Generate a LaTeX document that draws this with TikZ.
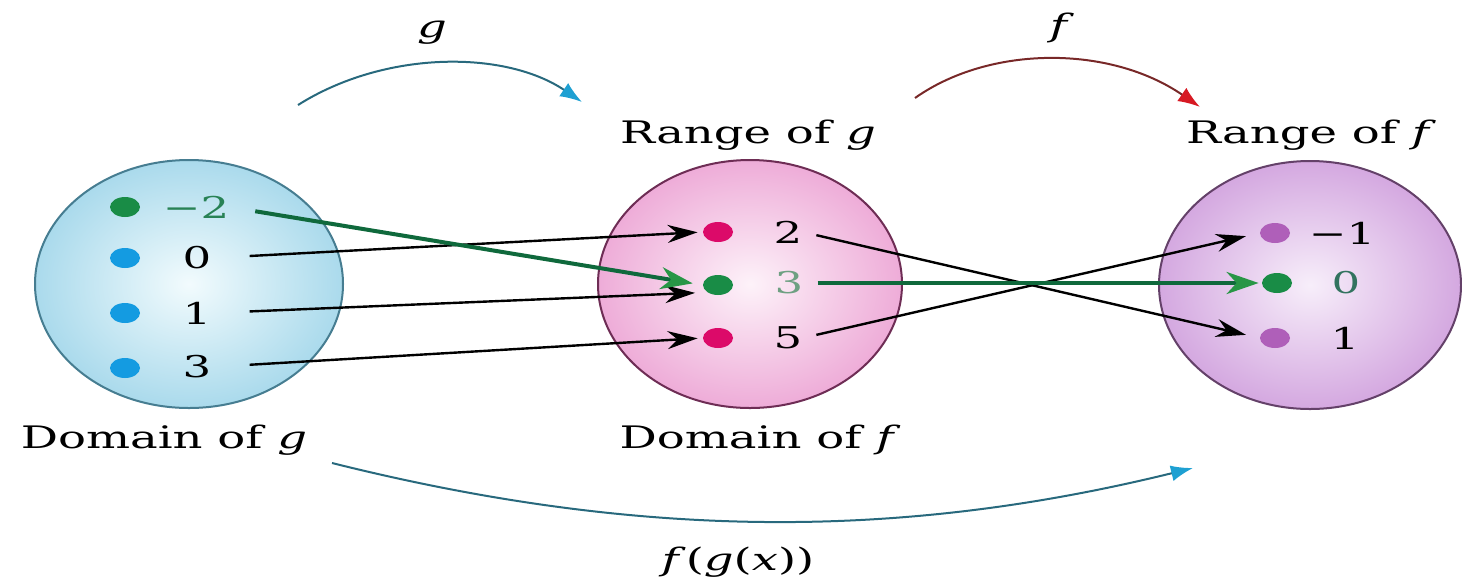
\documentclass[tikz,border=0pt]{standalone}
\usepackage{fontspec}
\setmainfont{DejaVu Serif}
\usepackage{graphicx}
\usetikzlibrary{arrows.meta,shapes.geometric}
\newcommand{\sx}[1]{\scalebox{1.5}[1]{#1}}
\definecolor{aFillOut}{RGB}{170,218,236}
\definecolor{aFillIn}{RGB}{242,251,253}
\definecolor{aLine}{RGB}{70,125,145}
\definecolor{bFillOut}{RGB}{238,172,216}
\definecolor{bFillIn}{RGB}{253,242,249}
\definecolor{bLine}{RGB}{110,45,85}
\definecolor{cFillOut}{RGB}{212,168,224}
\definecolor{cFillIn}{RGB}{247,238,250}
\definecolor{cLine}{RGB}{100,65,105}
\definecolor{dGreen}{RGB}{25,140,70}
\definecolor{dBlue}{RGB}{20,155,225}
\definecolor{dMag}{RGB}{220,10,105}
\definecolor{dPurp}{RGB}{175,95,185}
\definecolor{lineGreen}{RGB}{15,105,60}
\definecolor{tipGreen}{RGB}{40,150,70}
\definecolor{arcBlue}{RGB}{30,160,210}
\definecolor{arcBlueLine}{RGB}{40,105,125}
\definecolor{arcRed}{RGB}{215,25,35}
\definecolor{arcRedLine}{RGB}{120,40,40}
\definecolor{txtGreenA}{RGB}{40,130,85}
\definecolor{txtGreenB}{RGB}{110,160,130}
\definecolor{txtGreenC}{RGB}{50,115,95}
\begin{document}
\begin{tikzpicture}[x=0.5pt,y=-0.5pt,
  setbox/.style={ellipse, draw, line width=1pt, minimum width=#1, minimum height=124pt, inner sep=0pt},
  setA/.style={setbox=154pt, draw=aLine, inner color=aFillIn, outer color=aFillOut},
  setB/.style={setbox=152pt, draw=bLine, inner color=bFillIn, outer color=bFillOut},
  setC/.style={setbox=151pt, draw=cLine, inner color=cFillIn, outer color=cFillOut},
  dotnode/.style={ellipse, fill=#1, minimum width=15pt, minimum height=10pt, inner sep=0pt},
  numlabel/.style={inner sep=0pt, font=\fontsize{15}{17}\selectfont},
  setlabel/.style={inner sep=0pt, font=\fontsize{15.5}{18}\selectfont},
  maparrow/.style={line width=1.2pt, black, -{Stealth[length=15pt,width=9pt,inset=5pt]}},
  greenarrow/.style={line width=2pt, lineGreen, -{Stealth[length=16pt,width=11pt,inset=5pt,color=tipGreen]}},
  arcline/.style={line width=1pt}
]
\useasboundingbox (0,0) rectangle (1462,585);

% sets
\node[setA] (A) at (189,284) {};
\node[setB] (B) at (750,284) {};
\node[setC] (C) at (1310,285) {};

% dots
\node[dotnode=dGreen] (am2) at (125,207) {};
\node[dotnode=dBlue] (a0) at (125,258) {};
\node[dotnode=dBlue] (a1) at (125,313) {};
\node[dotnode=dBlue] (a3) at (125,368) {};
\node[dotnode=dMag] (b2) at (718,232) {};
\node[dotnode=dGreen] (b3) at (718,285) {};
\node[dotnode=dMag] (b5) at (718,338) {};
\node[dotnode=dPurp] (cm1) at (1275,233) {};
\node[dotnode=dGreen] (c0) at (1277,283) {};
\node[dotnode=dPurp] (c1) at (1275,338) {};

% numbers
\node[numlabel, text=txtGreenA] (lam2) at (196,207) {\sx{−2}};
\node[numlabel] (la0) at (197,258) {\sx{0}};
\node[numlabel] (la1) at (197,313) {\sx{1}};
\node[numlabel] (la3) at (197,367) {\sx{3}};
\node[numlabel] (lb2) at (788,232) {\sx{2}};
\node[numlabel, text=txtGreenB] (lb3) at (789,283) {\sx{3}};
\node[numlabel] (lb5) at (788,338) {\sx{5}};
\node[numlabel] (lcm1) at (1342,233) {\sx{−1}};
\node[numlabel, text=txtGreenC] (lc0) at (1346,283) {\sx{0}};
\node[numlabel] (lc1) at (1345,338) {\sx{1}};

% set labels
\node[setlabel] (tRg) at (748,135) {\sx{Range of \textit{g}}};
\node[setlabel] (tRf) at (1311,135) {\sx{Range of \textit{f}}};
\node[setlabel] (tDg) at (164,440) {\sx{Domain of \textit{g}}};
\node[setlabel] (tDf) at (760,440) {\sx{Domain of \textit{f}}};

% g mapping
\draw[maparrow, shorten <=19pt, shorten >=2.5pt] (la0.east) -- (b2.west);
\draw[maparrow, shorten <=19pt, shorten >=6pt] (la1.east) -- (b3.south west);
\draw[maparrow, shorten <=19pt, shorten >=2.5pt] (la3.east) -- (b5.west);
\draw[greenarrow, shorten <=13pt, shorten >=5pt] (lam2.east) -- (b3.west);

% f mapping
\draw[maparrow, shorten <=7pt, shorten >=7pt] (lb2.east) -- (c1.west);
\draw[maparrow, shorten <=7pt, shorten >=7pt] (lb5.east) -- (cm1.west);
\draw[greenarrow, shorten <=7pt, shorten >=1.5pt] (lb3.east) -- (c0.west);

% top and bottom arcs
\coordinate (g1) at (298,105);
\coordinate (g2) at (582,102);
\coordinate (f1) at (915,98);
\coordinate (f2) at (1200,107);
\coordinate (h1) at (332,463);
\coordinate (h2) at (1193,468);
\draw[arcline, arcBlueLine, -{Latex[length=11pt,width=8pt,color=arcBlue]}] (g1) .. controls (385,50) and (505,50) .. (g2);
\draw[arcline, arcRedLine, -{Latex[length=11pt,width=8pt,color=arcRed]}] (f1) .. controls (990,45) and (1110,45) .. (f2);
\draw[arcline, arcBlueLine, -{Latex[length=11pt,width=8pt,color=arcBlue]}] (h1) .. controls (640,540) and (900,540) .. (h2);
\node[setlabel] (tg) at (432,33) {\sx{\textit{g}}};
\node[setlabel] (tf) at (1062,28) {\sx{\textit{f}}};
\node[setlabel] (tfg) at (738,562) {\sx{\textit{f}(\textit{g}(\textit{x}))}};
\end{tikzpicture}
\end{document}
